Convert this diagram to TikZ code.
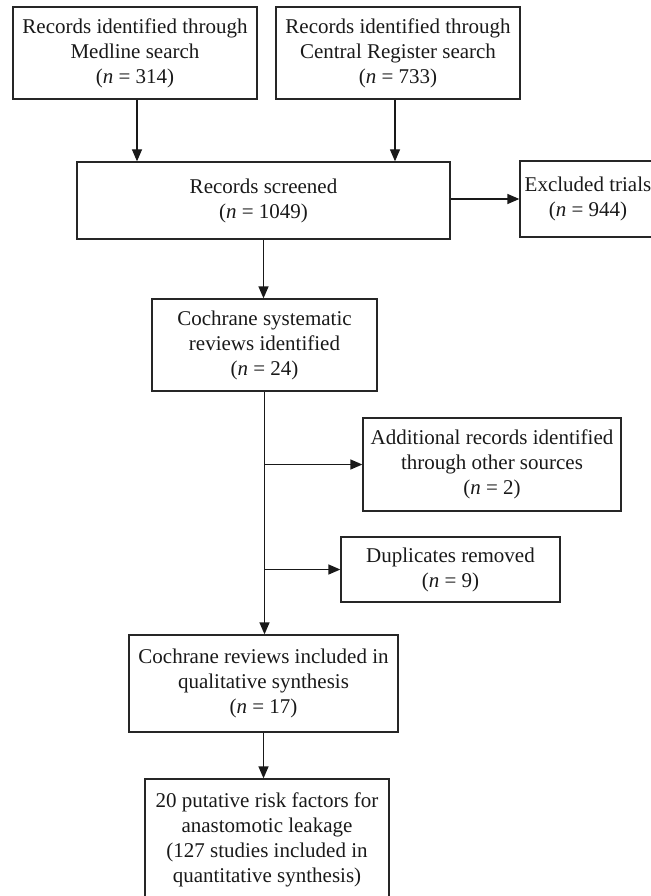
\documentclass[tikz,border=0pt]{standalone}
\usepackage{fontspec}
\setmainfont{Liberation Serif}
\usetikzlibrary{arrows.meta}
\begin{document}
\begin{tikzpicture}[x=1pt,y=-1pt,
  box/.style={draw=black!85, line width=1.3pt, inner sep=0pt, align=center,
    text=black!90, font=\fontsize{21}{25}\selectfont},
  arr/.style={line width=1.3pt, draw=black!90, -{Triangle[length=12pt,width=10pt]}}]
\useasboundingbox (0,0) rectangle (650,896);
\node[box, minimum width=244pt, minimum height=92pt] (med) at (135,53)
  {Records identified through\\Medline search\\(\textit{n} = 314)};
\node[box, minimum width=244pt, minimum height=92pt] (cen) at (398,53)
  {Records identified through\\Central Register search\\(\textit{n} = 733)};
\node[box, minimum width=373pt, minimum height=77pt] (scr) at (263.5,200.5)
  {Records screened\\(\textit{n} = 1049)};
\node[box, minimum width=136pt, minimum height=76pt] (exc) at (588,199)
  {Excluded trials\\(\textit{n} = 944)};
\node[box, minimum width=225pt, minimum height=92pt] (csr) at (264.5,345)
  {Cochrane systematic\\reviews identified\\(\textit{n} = 24)};
\node[box, minimum width=258pt, minimum height=93pt] (add) at (492,464.5)
  {Additional records identified\\through other sources\\(\textit{n} = 2)};
\node[box, minimum width=219pt, minimum height=65pt] (dup) at (450.5,569.5)
  {Duplicates removed\\(\textit{n} = 9)};
\node[box, minimum width=269pt, minimum height=97pt] (qual) at (263.5,683.5)
  {Cochrane reviews included in\\qualitative synthesis\\(\textit{n} = 17)};
\node[box, minimum width=244pt, minimum height=121pt] (fin) at (267,839.5)
  {20 putative risk factors for\\anastomotic leakage\\(127 studies included in\\quantitative synthesis)};
\draw[arr] ([xshift=2pt]med.south) -- ([xshift=2pt]med.south |- scr.north);
\draw[arr] ([xshift=-3pt]cen.south) -- ([xshift=-3pt]cen.south |- scr.north);
\draw[arr] (scr.east |- exc.west) -- (exc.west);
\draw[arr] (scr.south) -- (scr.south |- csr.north);
\draw[arr] (csr.south) -- (csr.south |- qual.north);
\coordinate (b1) at (csr.south |- add.west);
\coordinate (b2) at (csr.south |- dup.west);
\draw[arr] (b1) -- (add.west);
\draw[arr] (b2) -- (dup.west);
\draw[arr] (qual.south) -- (qual.south |- fin.north);
\end{tikzpicture}
\end{document}
